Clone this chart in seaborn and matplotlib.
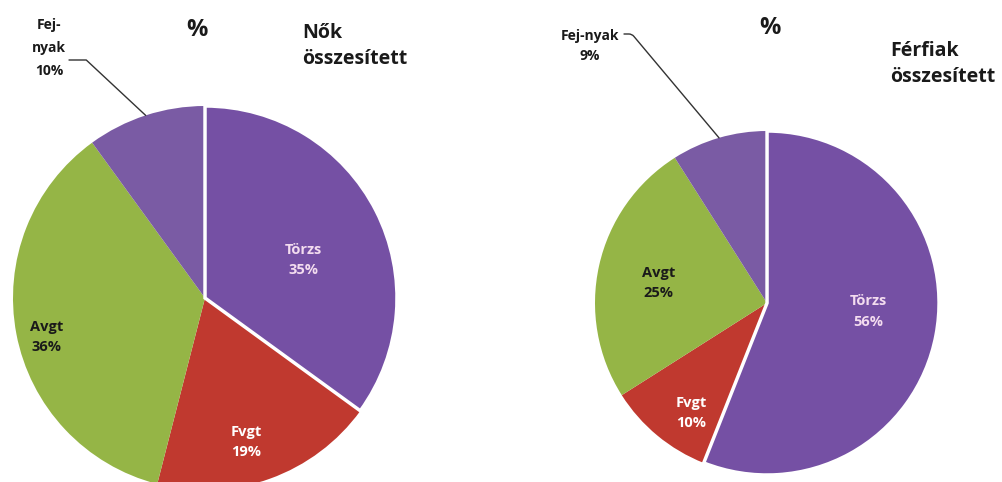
import numpy as np
import seaborn as sns
from matplotlib import pyplot as plt

# data
parts = ["Törzs", "Fvgt", "Avgt", "Fej-nyak"]
nok_pct = [35, 19, 36, 10]
ferfiak_pct = [56, 10, 25, 9]

colors = ["#7550a4", "#c0392f", "#95b546", "#7a5ba4"]
text_colors = ["#f3dcef", "white", "#1a1a1a", "#1a1a1a"]

sns.set_theme(style="white")
plt.rcParams["font.family"] = ["Open Sans", "DejaVu Sans"]

W, H = 1002, 482
fig = plt.figure(figsize=(W / 100, H / 100), dpi=100)
ax = fig.add_axes([0, 0, 1, 1])


def draw_pie(ax, values, center, radius, explode, lab_frac, lab_off, fs):
    wedges, _ = ax.pie(
        values,
        colors=colors,
        startangle=90,
        counterclock=False,
        explode=[explode, 0, 0, 0],
        center=center,
        radius=radius,
        frame=True,
        wedgeprops={"linewidth": 0},
    )
    # white rim on the pulled out slice
    wedges[0].set_edgecolor("white")
    wedges[0].set_linewidth(2.5)
    wedges[0].set_zorder(3)
    for i, w in enumerate(wedges[:3]):
        mid = np.deg2rad((w.theta1 + w.theta2) / 2 + lab_off[i])
        cx, cy = w.center
        ax.text(
            cx + radius * lab_frac[i] * np.cos(mid),
            cy + radius * lab_frac[i] * np.sin(mid),
            f"{parts[i]}\n{values[i]}%",
            ha="center",
            va="center",
            fontsize=fs,
            fontweight="bold",
            color=text_colors[i],
            linespacing=1.55,
            zorder=5,
        )
    return wedges


# left pie - Nok
wl = draw_pie(ax, nok_pct, (205, 184), 192, 0.015,
              [0.55, 0.78, 0.85], [-6, -4, 3], 10.5)
mid = np.deg2rad((wl[3].theta1 + wl[3].theta2) / 2)
edge = (205 + 192 * np.cos(mid), 184 + 192 * np.sin(mid))
ax.text(49, 434, f"Fej-\nnyak\n{nok_pct[3]}%", ha="center", va="center",
        fontsize=10, fontweight="bold", color="#1a1a1a", linespacing=1.85)
ax.annotate("", xy=edge, xytext=(69, 422),
            arrowprops=dict(arrowstyle="-", color="#333333", lw=1,
                            shrinkA=0, shrinkB=0,
                            connectionstyle="angle,angleA=0,angleB=137,rad=0"))
ax.text(197, 452, "%", ha="center", va="center", fontsize=17,
        fontweight="bold", color="#1a1a1a")
ax.text(302, 436, "Nők\nösszesített", ha="left", va="center", fontsize=14,
        fontweight="bold", color="#1a1a1a", linespacing=1.35)

# right pie - Ferfiak
wr = draw_pie(ax, ferfiak_pct, (767, 179), 172, 0.05,
              [0.59, 0.78, 0.64], [6, 5, 2], 10.5)
mid = np.deg2rad((wr[3].theta1 + wr[3].theta2) / 2)
edge = (767 + 172 * np.cos(mid), 179 + 172 * np.sin(mid))
ax.text(590, 436, f"Fej-nyak\n{ferfiak_pct[3]}%", ha="center", va="center",
        fontsize=10, fontweight="bold", color="#1a1a1a", linespacing=1.5)
ax.annotate("", xy=edge, xytext=(624, 448),
            arrowprops=dict(arrowstyle="-", color="#333333", lw=1,
                            shrinkA=0, shrinkB=0,
                            connectionstyle="angle,angleA=0,angleB=130,rad=3"))
ax.text(770, 454, "%", ha="center", va="center", fontsize=17,
        fontweight="bold", color="#1a1a1a")
ax.text(890, 418, "Férfiak\nösszesített", ha="left", va="center", fontsize=14,
        fontweight="bold", color="#1a1a1a", linespacing=1.35)

ax.set_xlim(0, W)
ax.set_ylim(0, H)
ax.set_aspect("equal")
ax.axis("off")

fig.savefig("out.png", dpi=100)
